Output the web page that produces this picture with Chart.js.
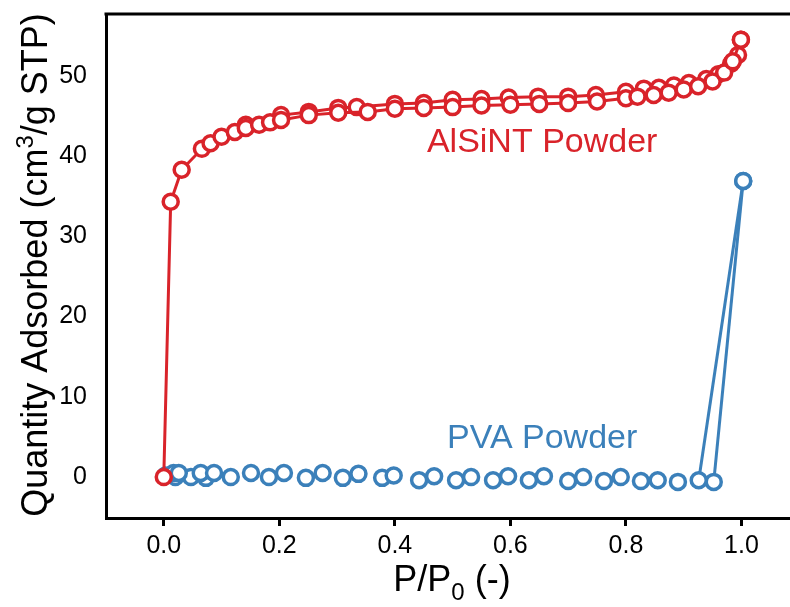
<!DOCTYPE html>
<html>
<head>
<meta charset="utf-8">
<script src="https://cdn.jsdelivr.net/npm/chart.js@4.4.0/dist/chart.umd.min.js"></script>
<style>
  html, body { margin: 0; padding: 0; background: #fff; }
</style>
</head>
<body>
<canvas id="c" width="790" height="607"></canvas>
<script>
// AlSiNT powder isotherm (adsorption, then desorption)
const alsintAdsX = [0.0, 0.012, 0.031, 0.066, 0.081, 0.100, 0.123, 0.142, 0.165, 0.184, 0.203, 0.251, 0.302, 0.353, 0.400, 0.450, 0.500, 0.550, 0.600, 0.650, 0.700, 0.750, 0.800, 0.820, 0.848, 0.874, 0.900, 0.925, 0.950, 0.970, 0.985, 0.999];
const alsintAdsY = [0.0, 34.3, 38.3, 40.9, 41.6, 42.4, 43.0, 43.5, 43.9, 44.2, 44.5, 45.1, 45.4, 45.5, 45.9, 46.0, 46.1, 46.3, 46.4, 46.5, 46.6, 46.8, 47.2, 47.4, 47.6, 47.9, 48.3, 48.7, 49.3, 50.4, 51.8, 54.5];
const alsintDesX = [0.999, 0.994, 0.982, 0.960, 0.939, 0.909, 0.883, 0.857, 0.831, 0.800, 0.748, 0.700, 0.648, 0.597, 0.550, 0.500, 0.450, 0.400, 0.334, 0.302, 0.251, 0.203, 0.142];
const alsintDesY = [54.5, 52.6, 51.5, 50.2, 49.6, 49.1, 48.8, 48.5, 48.4, 48.0, 47.6, 47.4, 47.4, 47.3, 47.1, 47.0, 46.6, 46.5, 46.1, 46.0, 45.5, 45.1, 43.9];

// PVA powder isotherm
const pvaAdsX = [0.003, 0.017, 0.026, 0.064, 0.087, 0.151, 0.208, 0.275, 0.337, 0.398, 0.468, 0.532, 0.596, 0.658, 0.726, 0.791, 0.855, 0.926, 1.003];
const pvaAdsY = [0.2, 0.5, 0.5, 0.5, 0.5, 0.5, 0.5, 0.5, 0.4, 0.2, 0.1, 0.0, 0.1, 0.1, 0.0, 0.0, -0.4, -0.4, 36.9];
const pvaDesX = [1.003, 0.952, 0.890, 0.826, 0.762, 0.700, 0.632, 0.570, 0.506, 0.442, 0.378, 0.310, 0.246, 0.182, 0.116, 0.073, 0.047, 0.020];
const pvaDesY = [36.9, -0.6, -0.6, -0.5, -0.5, -0.5, -0.4, -0.4, -0.4, -0.4, -0.1, -0.1, -0.1, 0.0, 0.0, -0.1, 0.0, 0.0];

const xTicks = [0.0, 0.2, 0.4, 0.6, 0.8, 1.0];
const yTicks = [0, 10, 20, 30, 40, 50];

const RED = '#d9232a';
const BLUE = '#3b80ba';
const FONT = '"Liberation Sans", Arial, sans-serif';

const pts = (xs, ys) => xs.map((x, i) => ({ x, y: ys[i] }));

function series(data, color, lineFor) {
  return {
    data,
    showLine: true,
    borderColor: color,
    borderWidth: 3,
    pointRadius: 7.5,
    pointBorderWidth: 3.5,
    pointBorderColor: color,
    pointBackgroundColor: '#fff',
    pointHoverRadius: 7.5,
    tension: 0,
    segment: lineFor ? { borderColor: ctx => lineFor(ctx) ? color : 'rgba(0,0,0,0)' } : undefined
  };
}

// only the rise to saturation is joined for PVA
const nearTop = ctx => ctx.p0.parsed.x > 0.99 || ctx.p1.parsed.x > 0.99;

const decor = {
  id: 'decor',
  afterDraw(chart) {
    const { ctx, chartArea: a, scales: { x, y } } = chart;
    ctx.save();
    // top frame line
    ctx.strokeStyle = '#000';
    ctx.lineWidth = 3;
    ctx.beginPath();
    ctx.moveTo(a.left - 1.5, a.top);
    ctx.lineTo(chart.width, a.top);
    ctx.stroke();

    // in-plot labels
    ctx.font = '34px ' + FONT;
    ctx.textAlign = 'center';
    ctx.textBaseline = 'alphabetic';
    ctx.fillStyle = RED;
    ctx.fillText('AlSiNT Powder', x.getPixelForValue(0.655), y.getPixelForValue(40.5));
    ctx.fillStyle = BLUE;
    ctx.fillText('PVA Powder', x.getPixelForValue(0.655), y.getPixelForValue(3.6));

    // axis titles with super/subscript
    ctx.fillStyle = '#000';
    ctx.textAlign = 'left';
    const big = '36px ' + FONT, small = '24px ' + FONT;
    const parts = (list) => {
      let w = 0;
      list.forEach(p => { ctx.font = p.f; w += ctx.measureText(p.t).width; });
      return w;
    };
    const drawParts = (list, x0, y0) => {
      let cx = x0;
      list.forEach(p => { ctx.font = p.f; ctx.fillText(p.t, cx, y0 + p.dy); cx += ctx.measureText(p.t).width; });
    };

    const xt = [{ t: 'P/P', f: big, dy: 0 }, { t: '0', f: small, dy: 9 }, { t: ' (-)', f: big, dy: 0 }];
    const xw = parts(xt);
    drawParts(xt, 452 - xw / 2, 591);

    const yt = [{ t: 'Quantity Adsorbed (cm', f: big, dy: 0 }, { t: '3', f: small, dy: -14 }, { t: '/g STP)', f: big, dy: 0 }];
    const yw = parts(yt);
    ctx.translate(47, 265);
    ctx.rotate(-Math.PI / 2);
    drawParts(yt, -yw / 2, 0);
    ctx.restore();
  }
};

new Chart(document.getElementById('c').getContext('2d'), {
  type: 'scatter',
  data: {
    datasets: [
      series(pts(alsintAdsX, alsintAdsY), RED),
      series(pts(alsintDesX, alsintDesY), RED),
      series(pts(pvaAdsX, pvaAdsY), BLUE, nearTop),
      series(pts(pvaDesX, pvaDesY), BLUE, nearTop)
    ]
  },
  options: {
    responsive: false,
    animation: false,
    devicePixelRatio: 1,
    layout: { autoPadding: false, padding: { top: 14, right: 0, left: 0, bottom: 0 } },
    plugins: { legend: { display: false }, tooltip: { enabled: false } },
    scales: {
      x: {
        type: 'linear',
        min: -0.1,
        max: 1.084,
        afterBuildTicks: s => { s.ticks = xTicks.map(v => ({ value: v })); },
        afterFit: s => { s.height = 89; s.paddingLeft = 0; s.paddingRight = 0; },
        grid: { drawOnChartArea: false, drawTicks: true, tickLength: 8, tickWidth: 3, tickColor: '#000' },
        border: { display: true, color: '#000', width: 3 },
        ticks: { color: '#000', font: { family: FONT, size: 25 }, padding: 5, maxRotation: 0, callback: v => v.toFixed(1) }
      },
      y: {
        type: 'linear',
        min: -5.1,
        max: 57.7,
        afterBuildTicks: s => { s.ticks = yTicks.map(v => ({ value: v })); },
        afterFit: s => { s.width = 106; s.paddingTop = 0; s.paddingBottom = 0; },
        grid: { display: false },
        border: { display: true, color: '#000', width: 3 },
        ticks: { color: '#000', font: { family: FONT, size: 25 }, padding: 11, callback: v => String(v) }
      }
    }
  },
  plugins: [decor]
});
</script>
</body>
</html>
